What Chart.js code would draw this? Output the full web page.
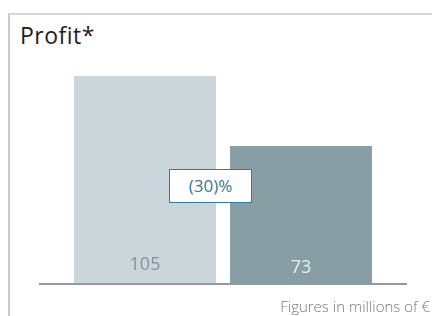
<!DOCTYPE html>
<html>
<head>
<meta charset="utf-8">
<script src="https://cdn.jsdelivr.net/npm/chart.js@4"></script>
<style>
  html, body { margin: 0; padding: 0; background: #fff; }
  body { width: 432px; height: 316px; position: relative; overflow: hidden; font-family: "Open Sans", sans-serif; }
  .frame { position: absolute; left: 8px; top: 13px; width: 430px; height: 310px; border-left: 2px solid #cbcbcb; border-top: 2px solid #d6d6d6; }
  .title { position: absolute; left: 20px; top: 19px; font-size: 23px; color: #1e1e1e; letter-spacing: 0.5px; }
  .note { position: absolute; right: 2px; top: 296px; font-size: 15px; font-weight: 300; color: #6f7b81; }
  .change { position: absolute; left: 169px; top: 169px; width: 81px; height: 32px; border: 1.5px solid #2b7f9d; background: #fff; color: #357892; font-size: 17px; text-align: center; line-height: 32px; box-sizing: content-box; }
  canvas { position: absolute; left: 0; top: 0; }
</style>
</head>
<body>
<div class="frame"></div>
<div class="title">Profit*</div>
<canvas id="chart" width="432" height="316"></canvas>
<div class="change">(30)%</div>
<div class="note">Figures in millions of €</div>
<script>
// data
const categories = ["Prior year", "Current year"];
const profit = [105, 73];
const valueLabels = ["105", "73"];
const changeLabel = "(30)%";

const barColors = ["#cbd6db", "#889ea5"];
const labelColors = ["#86929a", "#e8eef0"];

// baseline + in-bar value labels
const extras = {
  id: "extras",
  afterDatasetsDraw(chart) {
    const { ctx, chartArea } = chart;
    ctx.save();
    ctx.fillStyle = "#8f9ba1";
    ctx.fillRect(39, chartArea.bottom - 1, 368, 2);
    const meta = chart.getDatasetMeta(0);
    ctx.font = "18px 'Open Sans', sans-serif";
    ctx.textAlign = "center";
    ctx.textBaseline = "middle";
    meta.data.forEach((bar, i) => {
      ctx.fillStyle = labelColors[i];
      ctx.fillText(valueLabels[i], bar.x, chartArea.bottom - (i === 0 ? 19 : 16));
    });
    ctx.restore();
  },
};

new Chart(document.getElementById("chart"), {
  type: "bar",
  data: {
    labels: categories,
    datasets: [{
      data: profit,
      backgroundColor: barColors,
      borderWidth: 0,
      categoryPercentage: 1,
      barPercentage: 0.91,
    }],
  },
  options: {
    responsive: false,
    animation: false,
    layout: { padding: { left: 67, right: 53, top: 76, bottom: 32 } },
    plugins: { legend: { display: false }, tooltip: { enabled: false } },
    scales: {
      x: { display: false },
      y: { display: false, min: 9.9, max: 105 },
    },
  },
  plugins: [extras],
});
</script>
</body>
</html>
